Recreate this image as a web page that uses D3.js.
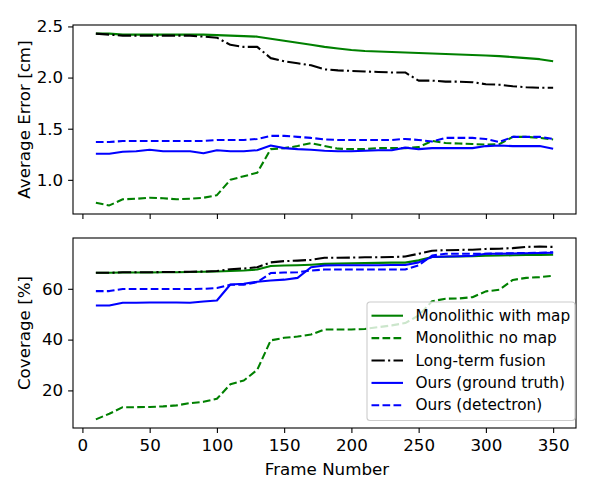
<!DOCTYPE html>
<html>
<head>
<meta charset="utf-8">
<script src="https://cdn.jsdelivr.net/npm/d3@7"></script>
<style>
  body { margin: 0; background: #fff; }
  svg { display: block; font-family: "DejaVu Sans", sans-serif; }
</style>
</head>
<body>
<script>
// frame numbers shared by both panels
const frames = [10, 20, 30, 40, 50, 60, 70, 80, 90, 100, 110, 120, 130, 140, 150, 160, 170, 180,
    190, 200, 210, 220, 230, 240, 250, 260, 270, 280, 290, 300, 310, 320, 330, 340, 350];

// average error [cm]
const errMonoMap = [2.43, 2.43, 2.42, 2.42, 2.42, 2.42, 2.42, 2.42, 2.42, 2.415, 2.41, 2.405, 2.40, 2.38, 2.36, 2.34, 2.32, 2.30,
    2.285, 2.27, 2.26, 2.255, 2.25, 2.245, 2.24, 2.235, 2.23, 2.225, 2.22, 2.215, 2.21, 2.20, 2.19, 2.18, 2.16];
const errMonoNoMap = [0.775, 0.75, 0.81, 0.815, 0.825, 0.82, 0.81, 0.815, 0.825, 0.85, 1.00, 1.035, 1.07, 1.30, 1.31, 1.33, 1.36, 1.33,
    1.305, 1.30, 1.30, 1.31, 1.31, 1.31, 1.32, 1.38, 1.36, 1.355, 1.35, 1.345, 1.35, 1.42, 1.42, 1.41, 1.395];
const errFusion = [2.43, 2.42, 2.41, 2.41, 2.41, 2.41, 2.41, 2.41, 2.40, 2.39, 2.32, 2.30, 2.30, 2.19, 2.16, 2.14, 2.12, 2.08,
    2.07, 2.065, 2.06, 2.055, 2.05, 2.05, 1.97, 1.97, 1.96, 1.96, 1.955, 1.935, 1.93, 1.915, 1.905, 1.90, 1.90];
const errOursGT = [1.255, 1.255, 1.275, 1.28, 1.295, 1.28, 1.28, 1.28, 1.26, 1.29, 1.28, 1.28, 1.29, 1.335, 1.31, 1.30, 1.295, 1.285,
    1.28, 1.28, 1.285, 1.29, 1.29, 1.315, 1.30, 1.31, 1.31, 1.31, 1.31, 1.33, 1.335, 1.33, 1.33, 1.33, 1.305];
const errOursDet = [1.37, 1.37, 1.38, 1.38, 1.38, 1.38, 1.38, 1.38, 1.38, 1.39, 1.39, 1.39, 1.40, 1.43, 1.43, 1.42, 1.41, 1.395,
    1.39, 1.39, 1.39, 1.39, 1.39, 1.40, 1.39, 1.375, 1.41, 1.41, 1.41, 1.40, 1.37, 1.42, 1.42, 1.42, 1.40];

// coverage [%]
const covMonoMap = [66.3, 66.3, 66.4, 66.4, 66.4, 66.5, 66.5, 66.6, 66.7, 66.8, 67.0, 67.2, 67.6, 69.0, 69.2, 69.3, 69.5, 69.8,
    69.9, 70.0, 70.1, 70.2, 70.3, 70.3, 71.2, 72.5, 72.6, 72.7, 72.8, 73.0, 73.1, 73.2, 73.3, 73.3, 73.4];
const covMonoNoMap = [8.6, 10.8, 13.4, 13.4, 13.5, 13.7, 14.1, 15.0, 15.5, 16.7, 22.4, 23.9, 28.1, 39.7, 40.7, 41.2, 42.0, 44.0,
    44.0, 44.0, 44.2, 44.9, 45.6, 46.5, 49.5, 55.1, 56.1, 56.2, 56.7, 59.0, 59.6, 63.5, 64.3, 64.6, 65.1];
const covFusion = [66.3, 66.3, 66.5, 66.5, 66.5, 66.6, 66.6, 66.7, 66.8, 67.0, 67.7, 68.0, 68.5, 70.4, 70.9, 71.1, 71.4, 72.2,
    72.2, 72.3, 72.4, 72.4, 72.5, 72.7, 73.8, 75.0, 75.2, 75.3, 75.4, 75.7, 75.8, 76.0, 76.5, 76.6, 76.5];
const covOursGT = [53.4, 53.4, 54.5, 54.5, 54.6, 54.6, 54.6, 54.5, 55.0, 55.4, 61.7, 62.0, 62.8, 63.3, 63.6, 64.3, 68.5, 69.2,
    69.3, 69.3, 69.3, 69.3, 69.4, 69.4, 70.4, 72.5, 72.7, 72.8, 73.0, 73.8, 73.8, 73.9, 74.0, 74.1, 74.2];
const covOursDet = [59.1, 59.1, 59.9, 59.9, 59.9, 59.9, 59.9, 59.9, 60.0, 60.3, 61.6, 61.6, 62.6, 66.2, 66.4, 66.5, 67.2, 67.6,
    67.6, 67.6, 67.6, 67.6, 67.6, 67.6, 69.2, 73.1, 73.8, 73.8, 73.8, 73.8, 73.9, 74.0, 74.1, 74.2, 74.4];

const seriesNames = ["Monolithic with map", "Monolithic no map", "Long-term fusion", "Ours (ground truth)", "Ours (detectron)"];
const seriesColors = ["green", "green", "black", "blue", "blue"];
const seriesDash = [null, "7.7,3.3", "13.3,3.3,2.1,3.3", null, "7.7,3.3"];

const xTicks = [0, 50, 100, 150, 200, 250, 300, 350];
const errTicks = [1.0, 1.5, 2.0, 2.5];
const covTicks = [20, 40, 60];

let width = 600, height = 500;
let left = 73, right = 576;
let fontSize = 16.7;
let tick = 4.9;

let svg = d3.select("body").append("svg")
    .attr("width", width)
    .attr("height", height);

let xScale = d3.scaleLinear()
    .domain([-7, 367])
    .range([left, right]);

// y range with matplotlib style 5% margins
function padded(arrays) {
    let lo = d3.min(arrays, a => d3.min(a));
    let hi = d3.max(arrays, a => d3.max(a));
    let m = (hi - lo) * 0.05;
    return [lo - m, hi + m];
}

function drawPanel(top, bottom, values, yTicks, fmt, label, showX) {
    let yScale = d3.scaleLinear()
        .domain(padded(values))
        .range([bottom, top]);

    let g = svg.append("g");

    let line = d3.line()
        .x((d, i) => xScale(frames[i]))
        .y(d => yScale(d));

    values.forEach(function(v, k) {
        g.append("path")
            .datum(v)
            .attr("fill", "none")
            .attr("stroke", seriesColors[k])
            .attr("stroke-width", 2.08)
            .attr("stroke-dasharray", seriesDash[k])
            .attr("stroke-linejoin", "round")
            .attr("d", line);
    });

    let xAxis = g.append("g")
        .attr("transform", "translate(0," + bottom + ")")
        .call(d3.axisBottom(xScale).tickValues(xTicks)
            .tickSize(tick).tickPadding(6.3).tickSizeOuter(0)
            .tickFormat(showX ? d3.format("d") : ""));
    xAxis.select(".domain").remove();

    let yAxis = g.append("g")
        .attr("transform", "translate(" + left + ",0)")
        .call(d3.axisLeft(yScale).tickValues(yTicks)
            .tickSize(tick).tickPadding(4.9).tickSizeOuter(0)
            .tickFormat(fmt));
    yAxis.select(".domain").remove();

    g.selectAll(".tick line").attr("stroke", "black").attr("stroke-width", 1.1);
    g.selectAll(".tick text")
        .attr("fill", "black")
        .style("font-size", fontSize + "px")
        .style("font-family", "DejaVu Sans");

    g.append("rect")
        .attr("x", left)
        .attr("y", top)
        .attr("width", right - left)
        .attr("height", bottom - top)
        .attr("fill", "none")
        .attr("stroke", "black")
        .attr("stroke-width", 1.1);

    g.append("text")
        .attr("transform", "translate(24," + (top + bottom) / 2 + ") rotate(-90)")
        .attr("text-anchor", "middle")
        .attr("dominant-baseline", "central")
        .style("font-size", fontSize + "px")
        .text(label);

    return yScale;
}

drawPanel(25, 214, [errMonoMap, errMonoNoMap, errFusion, errOursGT, errOursDet],
    errTicks, d3.format(".1f"), "Average Error [cm]", false);
drawPanel(238, 428, [covMonoMap, covMonoNoMap, covFusion, covOursGT, covOursDet],
    covTicks, d3.format("d"), "Coverage [%]", true);

svg.append("text")
    .attr("x", 327)
    .attr("y", 475)
    .attr("text-anchor", "middle")
    .style("font-size", fontSize + "px")
    .text("Frame Number");

// legend, lower right of the bottom panel
let legend = svg.append("g").attr("transform", "translate(367,302)");
legend.append("rect")
    .attr("width", 208)
    .attr("height", 118.5)
    .attr("rx", 3)
    .attr("fill", "white")
    .attr("fill-opacity", 0.8)
    .attr("stroke", "#cccccc")
    .attr("stroke-width", 1.1);

let rows = legend.selectAll("g.row")
    .data(seriesNames)
    .enter()
    .append("g")
    .attr("transform", (d, i) => "translate(0," + (13.7 + i * 22.4) + ")");

rows.append("line")
    .attr("x1", 4.5)
    .attr("x2", 36)
    .attr("stroke", (d, i) => seriesColors[i])
    .attr("stroke-width", 2.08)
    .attr("stroke-dasharray", (d, i) => seriesDash[i]);

rows.append("text")
    .attr("x", 48.5)
    .attr("dominant-baseline", "central")
    .style("font-size", "15.3px")
    .text(d => d);
</script>
</body>
</html>
